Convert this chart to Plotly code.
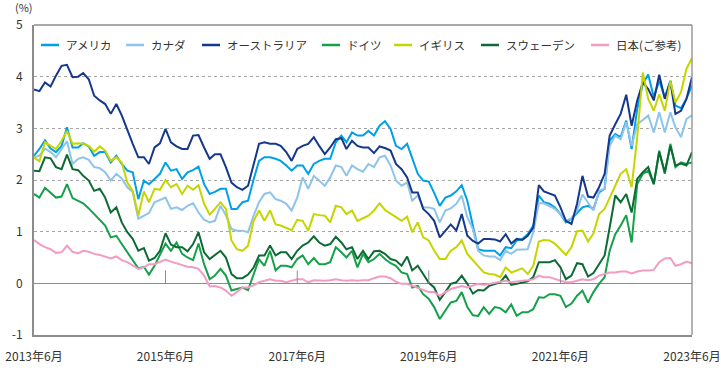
import plotly.graph_objects as go
import pandas as pd

# ---------------- data (monthly, 2013-06 .. 2023-06) ----------------
months = pd.date_range("2013-06-01", "2023-06-01", freq="MS")

america = [2.47,2.6,2.77,2.61,2.54,2.66,3.02,2.63,2.63,2.71,2.65,2.47,2.54,2.54,2.34,2.47,2.31,2.18,2.15,1.63,
           1.99,1.92,2.02,2.12,2.34,2.18,2.21,2.02,2.15,2.19,2.26,1.92,1.73,1.77,1.83,1.83,1.44,1.44,1.57,1.6,2.0,
           2.37,2.44,2.44,2.41,2.37,2.28,2.18,2.28,2.28,2.12,2.31,2.37,2.41,2.41,2.73,2.86,2.73,2.92,2.86,2.86,
           2.95,2.86,3.05,3.14,2.99,2.66,2.6,2.7,2.41,2.12,1.99,1.97,1.75,1.5,1.66,1.7,1.78,1.9,1.6,1.08,
           0.66,0.63,0.63,0.63,0.54,0.7,0.68,0.83,0.86,0.95,1.12,1.7,1.57,1.54,1.47,1.34,1.18,1.25,1.36,1.47,
           1.5,1.44,1.76,1.83,2.76,2.89,2.83,3.15,2.6,3.37,3.86,4.04,3.6,3.92,3.6,3.92,3.44,3.39,3.57,3.83]

canada = [2.44,2.47,2.61,2.54,2.44,2.6,2.75,2.31,2.41,2.44,2.39,2.25,2.23,2.15,1.99,2.12,2.03,1.86,1.77,1.25,
          1.31,1.36,1.57,1.62,1.66,1.44,1.47,1.42,1.5,1.55,1.37,1.23,1.18,1.21,1.5,1.32,1.05,1.02,1.02,0.99,1.3,
          1.57,1.73,1.76,1.63,1.6,1.54,1.41,1.66,2.05,1.83,2.08,1.99,1.89,2.05,2.28,2.25,2.08,2.28,2.21,2.16,
          2.31,2.25,2.44,2.47,2.28,1.99,1.89,1.95,1.6,1.7,1.47,1.47,1.44,1.18,1.41,1.45,1.54,1.7,1.28,1.05,
          0.63,0.54,0.52,0.52,0.45,0.63,0.57,0.65,0.65,0.66,0.99,1.55,1.55,1.5,1.44,1.34,1.21,1.26,1.41,1.72,
          1.57,1.41,1.79,1.83,2.66,2.86,2.79,3.12,2.66,3.08,3.16,3.25,2.92,3.31,2.92,3.31,3.02,2.83,3.18,3.25]

australia = [3.75,3.72,3.89,3.81,4.02,4.21,4.23,3.99,4.0,4.07,3.95,3.63,3.54,3.47,3.28,3.47,3.25,2.95,2.7,2.44,
             2.44,2.31,2.63,2.71,2.99,2.73,2.65,2.6,2.6,2.86,2.87,2.63,2.41,2.5,2.5,2.25,1.95,1.86,1.81,1.89,2.3,
             2.7,2.73,2.7,2.7,2.66,2.54,2.37,2.6,2.66,2.7,2.83,2.66,2.5,2.63,2.79,2.81,2.6,2.76,2.66,2.63,
             2.63,2.52,2.65,2.62,2.57,2.31,2.21,2.05,1.76,1.76,1.44,1.34,1.21,0.89,1.02,1.14,1.02,1.34,0.92,0.82,
             0.77,0.86,0.86,0.85,0.81,0.95,0.77,0.86,0.84,0.92,1.08,1.9,1.78,1.74,1.7,1.47,1.21,1.15,1.54,2.08,
             1.68,1.66,1.86,2.12,2.86,3.08,3.28,3.65,3.05,3.54,3.89,3.76,3.54,4.04,3.57,3.91,3.28,3.34,3.57,3.99]

germany = [1.73,1.66,1.85,1.76,1.66,1.68,1.92,1.65,1.6,1.55,1.45,1.34,1.23,1.12,0.89,0.92,0.76,0.6,0.44,0.29,
           0.32,0.17,0.34,0.54,0.77,0.63,0.79,0.57,0.5,0.45,0.77,0.37,0.08,0.15,0.28,0.15,-0.14,-0.11,-0.08,-0.13,0.18,
           0.47,0.34,0.63,0.25,0.34,0.34,0.31,0.47,0.54,0.37,0.49,0.37,0.37,0.41,0.7,0.6,0.5,0.63,0.31,0.57,
           0.41,0.47,0.57,0.47,0.39,0.34,0.21,0.18,-0.08,-0.05,-0.21,-0.3,-0.46,-0.69,-0.53,-0.37,-0.34,-0.17,-0.46,-0.62,
           -0.63,-0.46,-0.59,-0.46,-0.48,-0.56,-0.41,-0.63,-0.56,-0.56,-0.5,-0.27,-0.28,-0.21,-0.21,-0.24,-0.46,-0.39,-0.24,-0.14,
           -0.37,-0.17,-0.01,0.12,0.63,0.95,1.12,1.32,0.79,1.92,2.12,2.18,1.92,2.57,2.12,2.7,2.25,2.34,2.31,2.34]

uk = [2.44,2.36,2.73,2.66,2.6,2.76,2.95,2.7,2.71,2.7,2.66,2.55,2.65,2.57,2.37,2.44,2.34,1.95,1.79,1.31,
      1.78,1.57,1.83,1.81,2.0,1.86,1.92,1.73,1.89,1.81,1.9,1.54,1.33,1.44,1.57,1.44,0.83,0.66,0.63,0.73,1.2,
      1.41,1.21,1.41,1.14,1.12,1.07,1.03,1.23,1.21,1.02,1.34,1.32,1.31,1.18,1.5,1.47,1.34,1.41,1.21,1.26,
      1.31,1.41,1.55,1.42,1.34,1.28,1.21,1.29,0.99,1.18,0.89,0.83,0.63,0.47,0.47,0.63,0.7,0.83,0.57,0.44,
      0.32,0.21,0.18,0.17,0.12,0.31,0.21,0.25,0.29,0.18,0.34,0.81,0.84,0.83,0.77,0.66,0.55,0.7,1.01,1.02,
      0.81,0.97,1.34,1.44,1.66,1.92,2.12,2.21,1.86,2.83,4.08,3.57,3.34,3.66,3.34,3.92,3.5,3.7,4.15,4.36]

sweden = [2.18,2.17,2.44,2.42,2.25,2.21,2.49,2.21,2.19,2.08,1.99,1.79,1.83,1.66,1.37,1.47,1.18,0.99,0.86,0.63,
          0.68,0.44,0.49,0.63,0.97,0.75,0.7,0.7,0.62,0.76,0.99,0.6,0.47,0.55,0.63,0.5,0.18,0.1,0.1,0.17,0.3,
          0.54,0.54,0.73,0.54,0.6,0.6,0.47,0.63,0.73,0.79,0.91,0.79,0.73,0.76,0.9,0.79,0.66,0.7,0.47,0.63,
          0.47,0.62,0.63,0.57,0.47,0.44,0.34,0.52,0.25,0.34,0.18,0.01,-0.08,-0.32,-0.17,-0.01,0.02,0.15,-0.01,-0.2,
          -0.13,-0.14,-0.05,-0.01,0.02,0.15,-0.03,-0.01,0.02,0.04,0.12,0.41,0.41,0.41,0.45,0.31,0.08,0.15,0.39,0.37,
          0.13,0.2,0.37,0.54,1.08,1.7,1.57,1.73,1.37,2.02,2.15,2.25,1.92,2.54,2.15,2.66,2.28,2.32,2.28,2.54]

japan = [0.84,0.76,0.7,0.66,0.59,0.6,0.73,0.61,0.58,0.63,0.61,0.57,0.55,0.52,0.48,0.52,0.45,0.41,0.34,0.28,
         0.31,0.37,0.37,0.41,0.46,0.42,0.39,0.36,0.32,0.31,0.28,0.15,-0.06,-0.05,-0.08,-0.14,-0.24,-0.17,-0.08,-0.08,-0.04,
         0.02,0.05,0.08,0.05,0.05,0.02,0.05,0.08,0.08,0.02,0.06,0.05,0.05,0.06,0.08,0.06,0.05,0.06,0.05,0.06,
         0.06,0.1,0.13,0.13,0.1,0.03,-0.01,-0.01,-0.05,-0.08,-0.13,-0.17,-0.17,-0.24,-0.17,-0.11,-0.08,-0.05,-0.08,-0.05,
         -0.01,-0.03,-0.01,0.02,0.04,0.05,0.02,0.04,0.05,0.06,0.08,0.15,0.12,0.12,0.08,0.05,0.02,0.02,0.05,0.08,
         0.06,0.08,0.15,0.18,0.21,0.21,0.23,0.23,0.19,0.23,0.25,0.25,0.26,0.41,0.48,0.49,0.34,0.37,0.42,0.39]

names = ["アメリカ", "カナダ", "オーストラリア", "ドイツ", "イギリス", "スウェーデン", "日本(ご参考)"]
values = [america, canada, australia, germany, uk, sweden, japan]

x_tick_dates = ["2013-06-01", "2015-06-01", "2017-06-01", "2019-06-01", "2021-06-01", "2023-06-01"]
x_tick_labels = ["2013年6月", "2015年6月", "2017年6月", "2019年6月", "2021年6月", "2023年6月"]
y_ticks = [-1, 0, 1, 2, 3, 4, 5]

# ---------------- styling ----------------
colors = ["#00a0e9", "#8ec3ea", "#15388a", "#15a04a", "#c5d500", "#0c6b34", "#f29cc3"]
FONT = "Noto Sans CJK JP, Noto Sans, sans-serif"
TXT = "#333333"
AX = "#8c8c8c"
W, H = 721, 374
L, R, T, B = 34, 29, 25, 39
PW, PH = W - L - R, H - T - B

fig = go.Figure()
for n, v, c in zip(names, values, colors):
    assert len(v) == len(months), n
    fig.add_trace(go.Scatter(x=months, y=v, mode="lines", name=n,
                             line=dict(color=c, width=2), showlegend=False))

shapes = []
annotations = []
# top & right border
shapes.append(dict(type="line", xref="paper", yref="paper", x0=0, x1=1, y0=1, y1=1,
                   line=dict(color=AX, width=1.3)))
shapes.append(dict(type="line", xref="paper", yref="paper", x0=1, x1=1, y0=0, y1=1,
                   line=dict(color=AX, width=1.3)))
# small tick marks on the zero line
for d in x_tick_dates[1:-1]:
    shapes.append(dict(type="line", xref="x", yref="y", x0=d, x1=d, y0=0, y1=0.25,
                       line=dict(color=AX, width=1)))

# custom legend (line sample + text)
leg_px = [41, 126, 202, 322, 394, 481, 591]
leg_py = 45
for px, n, c in zip(leg_px, names, colors):
    x0 = (px - L) / PW
    x1 = (px + 18 - L) / PW
    yy = (H - B - leg_py) / PH
    shapes.append(dict(type="line", xref="paper", yref="paper", x0=x0, x1=x1, y0=yy, y1=yy,
                       line=dict(color=c, width=2.5)))
    annotations.append(dict(xref="paper", yref="paper", x=(px + 23 - L) / PW, y=yy,
                            xanchor="left", yanchor="middle", showarrow=False, text=n,
                            font=dict(family=FONT, size=11.5, color=TXT)))

# unit label
annotations.append(dict(xref="paper", yref="paper", x=(24 - L) / PW, y=(H - B - 7) / PH,
                        xanchor="center", yanchor="middle", showarrow=False, text="(%)",
                        font=dict(family=FONT, size=11, color=TXT)))

fig.update_layout(
    width=W, height=H,
    margin=dict(l=L, r=R, t=T, b=B, pad=0),
    paper_bgcolor="white", plot_bgcolor="white",
    font=dict(family=FONT, size=12, color=TXT),
    shapes=shapes, annotations=annotations,
    xaxis=dict(type="date", range=[months[0], months[-1]], automargin=False,
               tickvals=x_tick_dates, ticktext=x_tick_labels,
               showgrid=False, zeroline=False, showline=True, linecolor=AX, linewidth=2,
               ticks="", ticklabelstandoff=10, tickfont=dict(family=FONT, size=12, color=TXT)),
    yaxis=dict(range=[-1, 5], tickvals=y_ticks, ticktext=[str(t) for t in y_ticks], automargin=False,
               showgrid=True, gridcolor="#a6a6a6", gridwidth=1, griddash="3px,3px",
               zeroline=True, zerolinecolor=AX, zerolinewidth=1,
               showline=True, linecolor=AX, linewidth=2,
               ticks="", ticklabelstandoff=7, tickfont=dict(family=FONT, size=12, color=TXT)),
)

fig.write_html("out.html", config={"displayModeBar": False},
               post_script="document.body.style.margin='0';document.body.style.overflow='hidden';")
